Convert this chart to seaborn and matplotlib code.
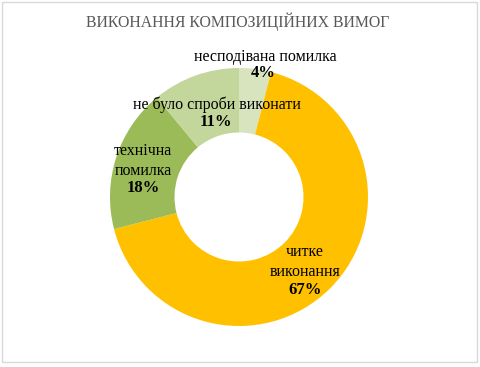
import matplotlib
matplotlib.use("Agg")
import matplotlib.pyplot as plt
import seaborn as sns
from matplotlib.patches import Rectangle

title = "ВИКОНАННЯ КОМПОЗИЦІЙНИХ ВИМОГ"
categories = ["несподівана помилка", "читке виконання", "технічна помилка", "не було спроби виконати"]
values = [4, 67, 18, 11]
colors = ["#D7E4BD", "#FFC000", "#9BBB59", "#C3D69B"]
# label text as shown on the chart (line breaks as in the original)
label_text = ["несподівана помилка", "читке\nвиконання", "технічна\nпомилка", "не було спроби виконати"]

sns.set_theme(style="white")
plt.rcParams["font.family"] = ["Liberation Serif", "DejaVu Serif"]

W, H = 481, 367
fig = plt.figure(figsize=(W / 100, H / 100), dpi=100)
ax = fig.add_axes([0, 0, 1, 1])

cx, cy, R = 239, 197, 129  # pixel centre and radius of the donut

wedges, _ = ax.pie(values, colors=colors, startangle=90, counterclock=False,
                   radius=1, wedgeprops=dict(width=0.5, edgecolor="none"))
ax.set_aspect("auto")
ax.set_xlim(-cx / R, (W - cx) / R)
ax.set_ylim(-(H - cy) / R, cy / R)
ax.axis("off")


def px(x, y):
    return (x - cx) / R, (cy - y) / R


# label positions (pixel coordinates of the name block centre and the percentage)
name_pos = [(265, 57), (305, 262), (143, 161), (217, 105)]
pct_pos = [(263, 73), (305, 290), (143, 188), (216, 122)]
for txt, v, npos, ppos in zip(label_text, values, name_pos, pct_pos):
    ax.text(*px(*npos), txt, ha="center", va="center", fontsize=11.5,
            color="#000000", linespacing=1.35)
    ax.text(*px(*ppos), f"{v}%", ha="center", va="center", fontsize=12,
            fontweight="bold", color="#000000")

fig.text(238 / W, 1 - 22 / H, title, ha="center", va="center", fontsize=11.3,
         color="#595959")

fig.patches.append(Rectangle((1.5 / W, 1 - 362 / H), 475.5 / W, 360.5 / H,
                             transform=fig.transFigure, fill=False,
                             edgecolor="#D9D9D9", linewidth=1))

fig.savefig("out.png", dpi=100, facecolor="white")
